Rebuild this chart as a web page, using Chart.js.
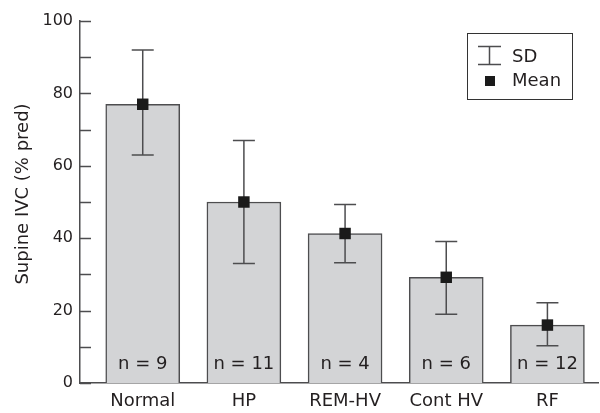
<!DOCTYPE html>
<html>
<head>
<meta charset="utf-8">
<script src="https://cdn.jsdelivr.net/npm/chart.js@4/dist/chart.umd.min.js"></script>
<style>
  html, body { margin: 0; padding: 0; background: #fff; }
  #wrap { width: 600px; height: 413px; position: relative; }
</style>
</head>
<body>
<div id="wrap"><canvas id="c"></canvas></div>
<script>
// ---- data ----
const categories = ['Normal', 'HP', 'REM-HV', 'Cont HV', 'RF'];
const means = [77, 50, 41.3, 29.2, 16];
const sdLow = [63, 33, 33.2, 19, 10.3];
const sdHigh = [92, 67, 49.3, 39.1, 22.2];
const nLabels = ['n = 9', 'n = 11', 'n = 4', 'n = 6', 'n = 12'];
const yTickLabels = [0, 20, 40, 60, 80, 100];
const yTitle = 'Supine IVC (% pred)';
const legendLabels = ['SD', 'Mean'];

const FONT = 'DejaVu Sans';
const TEXT = '#231f20';
const LINE = '#4d4d4f';

const errorBarsPlugin = {
  id: 'errorBars',
  afterDatasetDraw(chart, args) {
    if (args.index !== 1) return;
    const { ctx, scales: { x, y } } = chart;
    ctx.save();
    ctx.strokeStyle = LINE;
    ctx.lineWidth = 1.5;
    const cap = 11;
    categories.forEach((c, i) => {
      const px = x.getPixelForValue(i);
      const yl = y.getPixelForValue(sdLow[i]);
      const yh = y.getPixelForValue(sdHigh[i]);
      ctx.beginPath();
      ctx.moveTo(px, yl); ctx.lineTo(px, yh);
      ctx.moveTo(px - cap, yh); ctx.lineTo(px + cap, yh);
      ctx.moveTo(px - cap, yl); ctx.lineTo(px + cap, yl);
      ctx.stroke();
    });
    ctx.restore();
  }
};

const decorPlugin = {
  id: 'decor',
  afterDraw(chart) {
    const { ctx, scales: { x, y } } = chart;
    ctx.save();
    // inward y ticks
    ctx.strokeStyle = LINE;
    ctx.lineWidth = 1.5;
    const ax = chart.chartArea.left;
    y.ticks.forEach(t => {
      const py = Math.round(y.getPixelForValue(t.value)) + 0.5;
      ctx.beginPath();
      ctx.moveTo(ax, py); ctx.lineTo(ax + 11, py);
      ctx.stroke();
    });
    // y title
    ctx.fillStyle = TEXT;
    ctx.font = '18px "' + FONT + '"';
    ctx.textAlign = 'center';
    ctx.textBaseline = 'middle';
    ctx.save();
    ctx.translate(23, 194);
    ctx.rotate(-Math.PI / 2);
    ctx.fillText(yTitle, 0, 0);
    ctx.restore();
    // n labels
    const y0 = y.getPixelForValue(0);
    nLabels.forEach((s, i) => {
      ctx.fillText(s, x.getPixelForValue(i), y0 - 19);
    });
    // legend box
    ctx.strokeStyle = '#333';
    ctx.lineWidth = 1;
    ctx.strokeRect(467.5, 33.5, 105, 66);
    ctx.strokeStyle = LINE;
    ctx.lineWidth = 1.5;
    ctx.beginPath();
    ctx.moveTo(489.5, 46.5); ctx.lineTo(489.5, 64.5);
    ctx.moveTo(478, 46.5); ctx.lineTo(501, 46.5);
    ctx.moveTo(478, 64.5); ctx.lineTo(501, 64.5);
    ctx.stroke();
    ctx.fillStyle = '#1a1a1a';
    ctx.fillRect(485, 76, 10, 10);
    ctx.fillStyle = TEXT;
    ctx.textAlign = 'left';
    ctx.fillText(legendLabels[0], 512, 57);
    ctx.fillText(legendLabels[1], 512, 81.5);
    ctx.restore();
  }
};

new Chart(document.getElementById('c'), {
  data: {
    datasets: [
      {
        type: 'scatter',
        data: means.map((v, i) => ({ x: i, y: v })),
        pointStyle: 'rect',
        pointRadius: 8.1,
        pointHoverRadius: 8.1,
        backgroundColor: '#1a1a1a',
        borderColor: '#1a1a1a',
        borderWidth: 0,
        order: 1
      },
      {
        type: 'bar',
        data: means.map((v, i) => ({ x: i, y: v })),
        backgroundColor: '#d3d4d6',
        borderColor: LINE,
        borderWidth: 1.5,
        barThickness: 74,
        order: 2
      }
    ]
  },
  options: {
    responsive: true,
    maintainAspectRatio: false,
    animation: false,
    layout: { autoPadding: false, padding: { top: 21, right: 2, left: 0, bottom: 0 } },
    plugins: { legend: { display: false }, tooltip: { enabled: false } },
    scales: {
      x: {
        type: 'linear',
        offset: false,
        min: -0.62,
        max: 4.5,
        afterBuildTicks(scale) { scale.ticks = categories.map((c, i) => ({ value: i })); },
        afterFit(scale) { scale.height = 30; scale.paddingLeft = 0; scale.paddingRight = 0; },
        grid: { display: false, drawTicks: false, offset: false },
        border: { display: true, color: LINE, width: 1.5 },
        ticks: {
          padding: 8,
          color: TEXT,
          font: { family: FONT, size: 18 },
          autoSkip: false,
          maxRotation: 0,
          callback: (v) => categories[v] ?? ''
        }
      },
      y: {
        min: 0,
        max: 100,
        afterFit(scale) { scale.width = 80; },
        grid: { display: false, drawTicks: false },
        border: { display: true, color: LINE, width: 1.5 },
        ticks: {
          stepSize: 10,
          padding: 7,
          color: TEXT,
          font: { family: FONT, size: 16 },
          callback: (v) => yTickLabels.includes(v) ? String(v) : ''
        },
        title: { display: false }
      }
    }
  },
  plugins: [errorBarsPlugin, decorPlugin]
});
</script>
</body>
</html>
